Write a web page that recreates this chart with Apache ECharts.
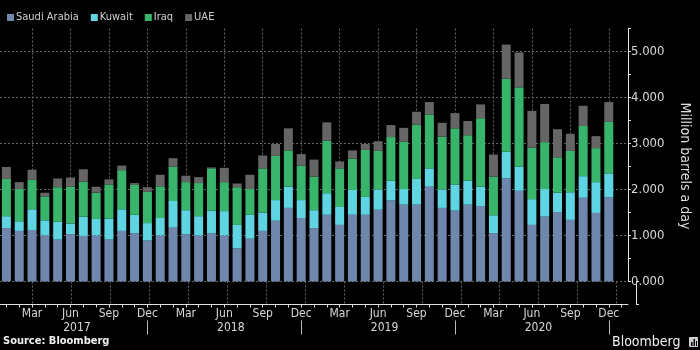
<!DOCTYPE html>
<html>
<head>
<meta charset="utf-8">
<script src="https://cdn.jsdelivr.net/npm/echarts@6/dist/echarts.min.js"></script>
<style>
  html, body { margin: 0; padding: 0; background: #000; }
  #chart { width: 700px; height: 350px; }
</style>
</head>
<body>
<div id="chart"></div>
<script>
// 数据 (Million barrels a day), Jan 2017 - Dec 2020
var years = ['2017', '2018', '2019', '2020']
var monthNames = ['Jan', 'Feb', 'Mar', 'Apr', 'May', 'Jun', 'Jul', 'Aug', 'Sep', 'Oct', 'Nov', 'Dec']
var yTicks = [0, 1, 2, 3, 4, 5]

var saudi = [1.16, 1.10, 1.12, 1.00, 0.91, 1.03, 0.99, 1.00, 0.91, 1.10, 1.05, 0.89,
  1.00, 1.17, 1.03, 1.00, 1.05, 1.00, 0.72, 0.93, 1.10, 1.32, 1.60, 1.38,
  1.16, 1.45, 1.23, 1.45, 1.45, 1.56, 1.76, 1.67, 1.67, 2.06, 1.60, 1.54,
  1.67, 1.64, 1.05, 2.24, 1.97, 1.23, 1.41, 1.51, 1.34, 1.82, 1.49, 1.83]
var kuwait = [0.26, 0.21, 0.45, 0.33, 0.39, 0.23, 0.42, 0.36, 0.46, 0.47, 0.40, 0.38,
  0.38, 0.58, 0.52, 0.42, 0.49, 0.53, 0.51, 0.52, 0.40, 0.45, 0.46, 0.39,
  0.39, 0.47, 0.39, 0.54, 0.39, 0.44, 0.43, 0.34, 0.56, 0.40, 0.40, 0.57,
  0.52, 0.42, 0.39, 0.58, 0.53, 0.56, 0.60, 0.42, 0.60, 0.47, 0.67, 0.52]
var iraq = [0.81, 0.70, 0.64, 0.52, 0.75, 0.80, 0.76, 0.57, 0.74, 0.85, 0.65, 0.68,
  0.69, 0.75, 0.61, 0.72, 0.92, 0.63, 0.82, 0.56, 0.96, 0.96, 0.79, 0.75,
  0.73, 1.14, 0.84, 0.68, 1.02, 0.84, 0.95, 1.03, 1.18, 1.17, 1.15, 1.22,
  0.99, 1.49, 0.84, 1.59, 1.72, 1.12, 1.02, 0.77, 0.90, 1.09, 0.74, 1.12]
var uae = [0.26, 0.15, 0.22, 0.08, 0.19, 0.20, 0.27, 0.13, 0.11, 0.10, 0.04, 0.10,
  0.25, 0.18, 0.14, 0.13, 0.02, 0.31, 0.08, 0.31, 0.28, 0.26, 0.48, 0.25,
  0.37, 0.40, 0.15, 0.18, 0.13, 0.21, 0.26, 0.30, 0.28, 0.27, 0.30, 0.33,
  0.31, 0.30, 0.48, 0.74, 0.76, 0.80, 0.83, 0.61, 0.37, 0.44, 0.26, 0.43]

var font = "'DejaVu Sans Condensed', 'Liberation Sans Narrow', 'DejaVu Sans', sans-serif"
var gridLine = { color: '#666666', width: 1, type: [2, 2] }

// 类目: one per month, plus one empty slot at the right end
var categories = []
years.forEach(function (y) {
  monthNames.forEach(function (m) { categories.push(m + ' ' + y) })
})
categories.push('')

function quarterly(i) { return i % 3 === 2 && i < 48 }

var chart = echarts.init(document.getElementById('chart'))

function bar(name, data, color) {
  return {
    name: name,
    type: 'bar',
    stack: 'total',
    barWidth: 9,
    xAxisIndex: 0,
    yAxisIndex: 0,
    data: data,
    itemStyle: { color: color }
  }
}

chart.setOption({
  backgroundColor: '#000',
  animation: false,
  textStyle: { fontFamily: font },
  legend: {
    left: 2,
    top: 7,
    icon: 'rect',
    itemWidth: 7,
    itemHeight: 7,
    itemGap: 12,
    textStyle: { color: '#d0d0d0', fontSize: 11, fontFamily: font, padding: [0, 0, 0, -3] },
    data: ['Saudi Arabia', 'Kuwait', 'Iraq', 'UAE']
  },
  // grid 0: values 0 .. 5.5, grid 1: the strip below zero
  grid: [
    { left: -1, right: 64, top: 28.5, bottom: 68.5 },
    { left: -1, right: 64, top: 281.5, bottom: 45.5 }
  ],
  xAxis: [
    {
      type: 'category',
      gridIndex: 0,
      data: categories,
      offset: 23,
      axisLine: { onZero: false, lineStyle: { color: '#e0e0e0', width: 1 } },
      axisTick: { show: true, alignWithLabel: true, interval: 0, length: 3, lineStyle: { color: '#e0e0e0' } },
      axisLabel: {
        color: '#d8d8d8',
        fontSize: 12,
        margin: 3,
        interval: quarterly,
        formatter: function (v) { return v.slice(0, 3) }
      },
      splitLine: { show: true, alignWithLabel: true, interval: quarterly, lineStyle: gridLine }
    },
    {
      type: 'category',
      gridIndex: 0,
      position: 'bottom',
      offset: 39,
      data: categories,
      axisLine: { show: false, onZero: false },
      axisTick: {
        show: true,
        alignWithLabel: true,
        interval: function (i) { return i % 12 === 11 && i < 48 },
        length: 14,
        lineStyle: { color: '#bbbbbb' }
      },
      axisLabel: {
        color: '#d8d8d8',
        fontSize: 12,
        margin: 1,
        padding: [0, 0, 0, 13],
        interval: function (i) { return i % 12 === 5 },
        formatter: function (v) { return v.split(' ')[1] }
      },
      splitLine: { show: false }
    },
    {
      type: 'category',
      gridIndex: 1,
      data: categories,
      axisLine: { show: false },
      axisTick: { show: false },
      axisLabel: { show: false },
      splitLine: { show: true, alignWithLabel: true, interval: quarterly, lineStyle: gridLine }
    }
  ],
  yAxis: [
    {
      type: 'value',
      gridIndex: 0,
      position: 'right',
      min: 0,
      max: 5.5,
      interval: 1,
      name: 'Million barrels a day',
      nameLocation: 'middle',
      nameRotate: -90,
      nameGap: 50,
      nameTextStyle: { color: '#e0e0e0', fontSize: 14, fontFamily: font, padding: [0, 0, 0, 22] },
      axisLine: { show: true, lineStyle: { color: '#e0e0e0' } },
      axisTick: { show: true, length: 3, lineStyle: { color: '#e0e0e0' } },
      minorTick: { show: true, splitNumber: 2, length: 3, lineStyle: { color: '#e0e0e0' } },
      axisLabel: {
        color: '#d8d8d8',
        fontSize: 13,
        margin: 3,
        showMaxLabel: false,
        formatter: function (v) {
          return yTicks.indexOf(v) > -1 ? v.toFixed(3) : ''
        }
      },
      splitLine: { show: true, showMinLine: true, showMaxLine: false, lineStyle: gridLine }
    },
    {
      type: 'value',
      gridIndex: 1,
      position: 'right',
      min: -0.5,
      max: 0,
      interval: 0.5,
      axisLine: { show: true, lineStyle: { color: '#e0e0e0' } },
      axisTick: { show: true, length: 3, lineStyle: { color: '#e0e0e0' } },
      axisLabel: { show: false },
      splitLine: { show: false }
    }
  ],
  series: [
    bar('Saudi Arabia', saudi, '#7087ad'),
    bar('Kuwait', kuwait, '#5fd4e2'),
    bar('Iraq', iraq, '#38b56b'),
    bar('UAE', uae, '#656565')
  ],
  graphic: [
    {
      type: 'text',
      left: 3,
      top: 336,
      style: { text: 'Source: Bloomberg', fill: '#f0f0f0', font: 'bold 11px ' + font }
    },
    {
      type: 'text',
      left: 612,
      top: 335,
      style: { text: 'Bloomberg', fill: '#f0f0f0', font: '14px ' + font }
    },
    {
      type: 'group',
      left: 689,
      top: 337,
      children: [
        { type: 'rect', shape: { x: 0, y: 0, width: 9, height: 10, r: 1 }, style: { fill: '#cfcfcf' } },
        { type: 'rect', shape: { x: 2, y: 5, width: 1.5, height: 4 }, style: { fill: '#000' } },
        { type: 'rect', shape: { x: 4.5, y: 2, width: 1.5, height: 7 }, style: { fill: '#000' } },
        { type: 'rect', shape: { x: 7, y: 4, width: 1, height: 5 }, style: { fill: '#000' } }
      ]
    }
  ]
})
</script>
</body>
</html>
